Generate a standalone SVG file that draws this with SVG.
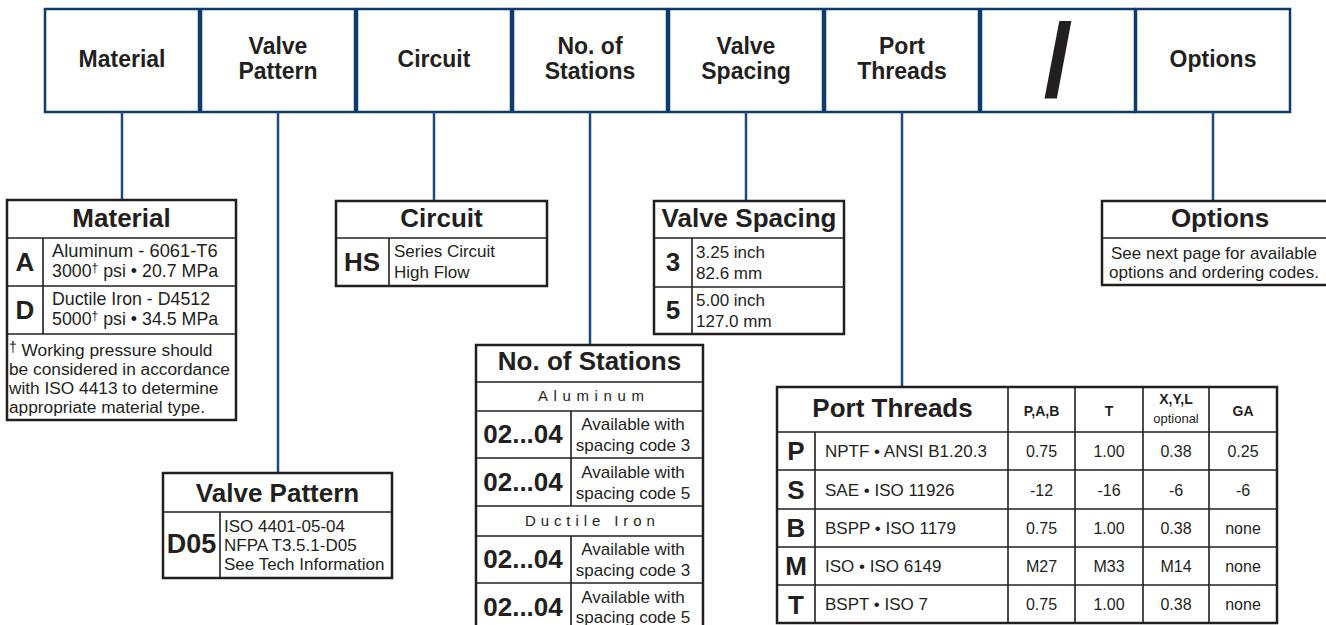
<svg xmlns="http://www.w3.org/2000/svg" width="1326" height="625" viewBox="0 0 1326 625">
<style>
text{font-family:"Liberation Sans",Arial,sans-serif;fill:#231f20}
.hb{fill:#fff;stroke:#0e3a6c;stroke-width:2.5}
.ht{font-size:23px;font-weight:bold;text-anchor:middle}
.conn line{stroke:#1c4a7d;stroke-width:2.5}
.tb{fill:#fff;stroke:#231f20;stroke-width:2.5}
.ln{stroke:#231f20;stroke-width:1.6}
.tt{font-size:26px;font-weight:bold;text-anchor:middle}
.cd{font-size:26px;font-weight:bold;text-anchor:middle}
.tx{font-size:17px}
.txc{font-size:17px;text-anchor:middle}
.sp{font-size:15px;letter-spacing:5.6px}
.ph{font-size:14px;font-weight:bold;text-anchor:middle}
.pv{font-size:16px;text-anchor:middle}
</style>
<rect width="1326" height="625" fill="#fff"/>

<g id="headers">
  <g id="h-material"><rect class="hb" x="45" y="9" width="154" height="103"/><text class="ht" x="122" y="67">Material</text></g>
  <g id="h-valve-pattern"><rect class="hb" x="201" y="9" width="154" height="103"/><text class="ht" x="278" y="54">Valve</text><text class="ht" x="278" y="79">Pattern</text></g>
  <g id="h-circuit"><rect class="hb" x="357" y="9" width="154" height="103"/><text class="ht" x="434" y="67">Circuit</text></g>
  <g id="h-stations"><rect class="hb" x="513" y="9" width="154" height="103"/><text class="ht" x="590" y="54">No. of</text><text class="ht" x="590" y="79">Stations</text></g>
  <g id="h-spacing"><rect class="hb" x="669" y="9" width="154" height="103"/><text class="ht" x="746" y="54">Valve</text><text class="ht" x="746" y="79">Spacing</text></g>
  <g id="h-port"><rect class="hb" x="825" y="9" width="154" height="103"/><text class="ht" x="902" y="54">Port</text><text class="ht" x="902" y="79">Threads</text></g>
  <g id="h-slash"><rect class="hb" x="981" y="9" width="154" height="103"/><text x="1058" y="96" font-size="104" font-weight="bold" text-anchor="middle">/</text></g>
  <g id="h-options"><rect class="hb" x="1136" y="9" width="154" height="103"/><text class="ht" x="1213" y="67">Options</text></g>
</g>

<g class="conn" id="connectors">
  <line x1="122" y1="112" x2="122" y2="200"/>
  <line x1="278" y1="112" x2="278" y2="473"/>
  <line x1="434" y1="112" x2="434" y2="201"/>
  <line x1="590" y1="112" x2="590" y2="345"/>
  <line x1="746" y1="112" x2="746" y2="201"/>
  <line x1="902" y1="112" x2="902" y2="387"/>
  <line x1="1213" y1="112" x2="1213" y2="201"/>
</g>

<g id="t-material">
  <rect class="tb" x="7" y="200" width="229" height="220"/>
  <line class="ln" x1="7" y1="238" x2="236" y2="238"/>
  <line class="ln" x1="7" y1="286" x2="236" y2="286"/>
  <line class="ln" x1="7" y1="334" x2="236" y2="334"/>
  <line class="ln" x1="43" y1="238" x2="43" y2="334"/>
  <text class="tt" x="121.5" y="227">Material</text>
  <text class="cd" x="25" y="271">A</text>
  <text class="cd" x="25" y="319">D</text>
  <text class="tx" x="52" y="257" style="font-size:18.3px">Aluminum - 6061-T6</text>
  <text class="tx" x="52" y="277" style="font-size:17.8px">3000<tspan style="font-size:12px" dy="-5">†</tspan><tspan dy="5"> psi • 20.7 MPa</tspan></text>
  <text class="tx" x="52" y="305" style="font-size:17.8px">Ductile Iron - D4512</text>
  <text class="tx" x="52" y="325" style="font-size:17.8px">5000<tspan style="font-size:12px" dy="-5">†</tspan><tspan dy="5"> psi • 34.5 MPa</tspan></text>
  <text class="tx" x="9" y="356" style="font-size:17.3px"><tspan style="font-size:14px" dy="-4">†</tspan><tspan dy="4"> Working pressure should</tspan></text>
  <text class="tx" x="9" y="375" style="font-size:17.3px">be considered in accordance</text>
  <text class="tx" x="9" y="394" style="font-size:17.3px">with ISO 4413 to determine</text>
  <text class="tx" x="9" y="413" style="font-size:17.3px">appropriate material type.</text>
</g>

<g id="t-circuit">
  <rect class="tb" x="336" y="201" width="211" height="85"/>
  <line class="ln" x1="336" y1="238" x2="547" y2="238"/>
  <line class="ln" x1="389" y1="238" x2="389" y2="286"/>
  <text class="tt" x="441.5" y="227">Circuit</text>
  <text class="cd" x="362" y="271">HS</text>
  <text class="tx" x="394" y="257">Series Circuit</text>
  <text class="tx" x="394" y="278">High Flow</text>
</g>

<g id="t-spacing">
  <rect class="tb" x="654" y="201" width="190" height="133"/>
  <line class="ln" x1="654" y1="238" x2="844" y2="238"/>
  <line class="ln" x1="654" y1="287" x2="844" y2="287"/>
  <line class="ln" x1="692" y1="238" x2="692" y2="334"/>
  <text class="tt" x="749" y="227">Valve Spacing</text>
  <text class="cd" x="673" y="271">3</text>
  <text class="cd" x="673" y="319">5</text>
  <text class="tx" x="696" y="258">3.25 inch</text>
  <text class="tx" x="696" y="279">82.6 mm</text>
  <text class="tx" x="696" y="306">5.00 inch</text>
  <text class="tx" x="696" y="327">127.0 mm</text>
</g>

<g id="t-options">
  <rect class="tb" x="1102" y="201" width="228" height="84"/>
  <line class="ln" x1="1102" y1="238" x2="1330" y2="238"/>
  <text class="tt" x="1220" y="227">Options</text>
  <text class="txc" x="1214" y="259">See next page for available</text>
  <text class="txc" x="1214" y="278">options and ordering codes.</text>
</g>

<g id="t-stations">
  <rect class="tb" x="476" y="345" width="227" height="300"/>
  <line class="ln" x1="476" y1="382" x2="703" y2="382"/>
  <line class="ln" x1="476" y1="411" x2="703" y2="411"/>
  <line class="ln" x1="476" y1="458" x2="703" y2="458"/>
  <line class="ln" x1="476" y1="506" x2="703" y2="506"/>
  <line class="ln" x1="476" y1="536" x2="703" y2="536"/>
  <line class="ln" x1="476" y1="583" x2="703" y2="583"/>
  <line class="ln" x1="571" y1="411" x2="571" y2="506"/>
  <line class="ln" x1="571" y1="536" x2="571" y2="625"/>
  <text class="tt" x="589.5" y="370">No. of Stations</text>
  <text class="sp" x="538" y="401">Aluminum</text>
  <text class="sp" x="525" y="526" style="letter-spacing:4.9px">Ductile Iron</text>
  <text class="cd" x="523" y="443">02...04</text>
  <text class="cd" x="523" y="491">02...04</text>
  <text class="cd" x="523" y="568">02...04</text>
  <text class="cd" x="523" y="616">02...04</text>
  <text class="txc" x="633" y="430">Available with</text>
  <text class="txc" x="633" y="451">spacing code 3</text>
  <text class="txc" x="633" y="478">Available with</text>
  <text class="txc" x="633" y="499">spacing code 5</text>
  <text class="txc" x="633" y="555">Available with</text>
  <text class="txc" x="633" y="576">spacing code 3</text>
  <text class="txc" x="633" y="603">Available with</text>
  <text class="txc" x="633" y="623">spacing code 5</text>
</g>

<g id="t-valve-pattern">
  <rect class="tb" x="163" y="473" width="229" height="105"/>
  <line class="ln" x1="163" y1="512" x2="392" y2="512"/>
  <line class="ln" x1="220" y1="512" x2="220" y2="578"/>
  <text class="tt" x="277.5" y="502">Valve Pattern</text>
  <text class="cd" x="191.5" y="553" style="font-size:27px">D05</text>
  <text class="tx" x="224" y="532">ISO 4401-05-04</text>
  <text class="tx" x="224" y="551">NFPA T3.5.1-D05</text>
  <text class="tx" x="224" y="570">See Tech Information</text>
</g>

<g id="t-port">
  <rect class="tb" x="777" y="387" width="500" height="236"/>
  <line class="ln" x1="777" y1="432" x2="1277" y2="432"/>
  <line class="ln" x1="777" y1="470" x2="1277" y2="470"/>
  <line class="ln" x1="777" y1="509" x2="1277" y2="509"/>
  <line class="ln" x1="777" y1="547" x2="1277" y2="547"/>
  <line class="ln" x1="777" y1="585" x2="1277" y2="585"/>
  <line class="ln" x1="815" y1="432" x2="815" y2="623"/>
  <line class="ln" x1="1008" y1="387" x2="1008" y2="623"/>
  <line class="ln" x1="1075" y1="387" x2="1075" y2="623"/>
  <line class="ln" x1="1143" y1="387" x2="1143" y2="623"/>
  <line class="ln" x1="1209" y1="387" x2="1209" y2="623"/>
  <text class="tt" x="892.5" y="417">Port Threads</text>
  <text class="ph" x="1041.5" y="416">P,A,B</text>
  <text class="ph" x="1109" y="416">T</text>
  <text class="ph" x="1176" y="404">X,Y,L</text>
  <text x="1176" y="423" font-size="13" text-anchor="middle">optional</text>
  <text class="ph" x="1243" y="416">GA</text>
  <text class="cd" x="796" y="460">P</text>
  <text class="cd" x="796" y="499">S</text>
  <text class="cd" x="796" y="537">B</text>
  <text class="cd" x="796" y="575">M</text>
  <text class="cd" x="796" y="614">T</text>
  <text class="tx" x="825" y="457">NPTF • ANSI B1.20.3</text>
  <text class="tx" x="825" y="496">SAE • ISO 11926</text>
  <text class="tx" x="825" y="534">BSPP • ISO 1179</text>
  <text class="tx" x="825" y="572">ISO • ISO 6149</text>
  <text class="tx" x="825" y="610">BSPT • ISO 7</text>
  <text class="pv" x="1041.5" y="457">0.75</text>
  <text class="pv" x="1109" y="457">1.00</text>
  <text class="pv" x="1176" y="457">0.38</text>
  <text class="pv" x="1243" y="457">0.25</text>
  <text class="pv" x="1041.5" y="496">-12</text>
  <text class="pv" x="1109" y="496">-16</text>
  <text class="pv" x="1176" y="496">-6</text>
  <text class="pv" x="1243" y="496">-6</text>
  <text class="pv" x="1041.5" y="534">0.75</text>
  <text class="pv" x="1109" y="534">1.00</text>
  <text class="pv" x="1176" y="534">0.38</text>
  <text class="pv" x="1243" y="534">none</text>
  <text class="pv" x="1041.5" y="572">M27</text>
  <text class="pv" x="1109" y="572">M33</text>
  <text class="pv" x="1176" y="572">M14</text>
  <text class="pv" x="1243" y="572">none</text>
  <text class="pv" x="1041.5" y="610">0.75</text>
  <text class="pv" x="1109" y="610">1.00</text>
  <text class="pv" x="1176" y="610">0.38</text>
  <text class="pv" x="1243" y="610">none</text>
</g>
</svg>
